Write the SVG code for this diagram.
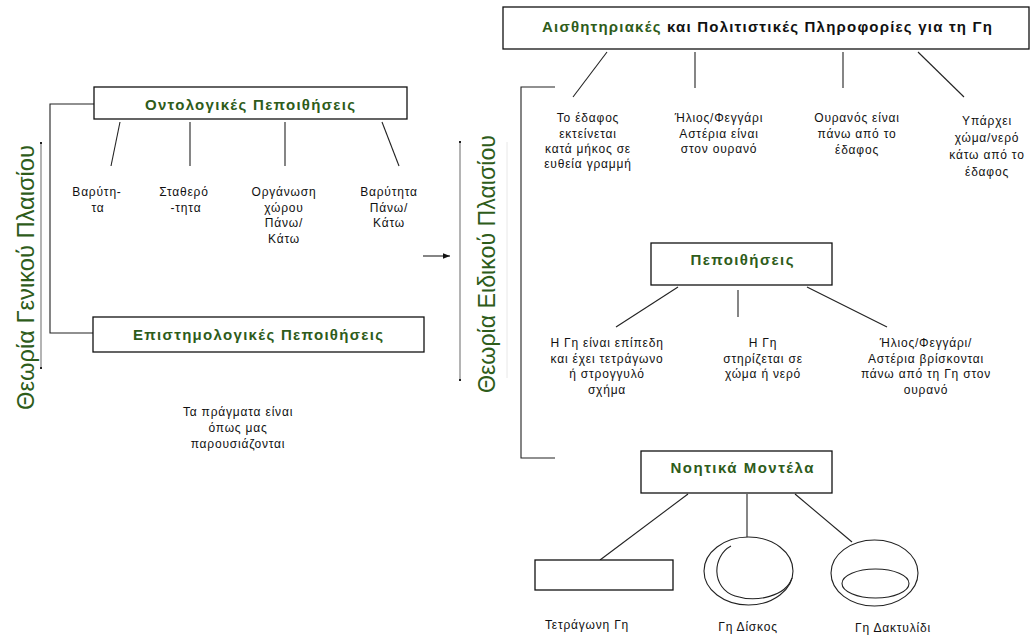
<svg xmlns="http://www.w3.org/2000/svg" width="1034" height="639" viewBox="0 0 1034 639">
<style>
.box{fill:#fff;stroke:#111;stroke-width:1.3}
.ln{stroke:#222;stroke-width:1.1;fill:none}
.t{font-family:"Liberation Sans",Arial,sans-serif;font-size:12px;letter-spacing:0.8px;fill:#111;text-anchor:middle}
.h{font-family:"Liberation Sans",Arial,sans-serif;font-size:15px;font-weight:bold;fill:#2e5c1a;text-anchor:middle}
.v{font-family:"Liberation Sans",Arial,sans-serif;font-size:23px;fill:#2e5c1a;text-anchor:middle}
.g{stroke:#b4b4b4;stroke-width:2}
</style>
<defs>
<marker id="ah" viewBox="0 0 10 10" refX="10" refY="5" markerWidth="7" markerHeight="7" markerUnits="userSpaceOnUse" orient="auto">
<path d="M0,1 L10,5 L0,9 z" fill="#111"/>
</marker>
</defs>
<rect width="1034" height="639" fill="#fff"/>

<g id="connectors">
<polyline class="ln" points="94,104 50,104 50,333 94,333"/>
<line class="ln" x1="120" y1="122" x2="111" y2="166"/>
<line class="ln" x1="190" y1="122" x2="190" y2="166"/>
<line class="ln" x1="285" y1="122" x2="285" y2="166"/>
<line class="ln" x1="382" y1="122" x2="399" y2="166"/>
<line class="ln" x1="423" y1="256" x2="450" y2="256" marker-end="url(#ah)"/>
<polyline class="ln" points="555,87 521,87 521,458 555,458"/>
<line class="ln" x1="607" y1="52" x2="573" y2="97"/>
<line class="ln" x1="695" y1="52" x2="695" y2="88"/>
<line class="ln" x1="843" y1="52" x2="843" y2="88"/>
<line class="ln" x1="918" y1="52" x2="964" y2="97"/>
<line class="ln" x1="678" y1="287" x2="616" y2="327"/>
<line class="ln" x1="738" y1="290" x2="738" y2="317"/>
<line class="ln" x1="807" y1="287" x2="887" y2="327"/>
<line class="ln" x1="688" y1="494" x2="600" y2="560"/>
<line class="ln" x1="747" y1="494" x2="747" y2="537"/>
<line class="ln" x1="795" y1="494" x2="852" y2="542"/>
</g>

<g id="frame-general">
<line class="g" x1="41" y1="143" x2="41" y2="368"/>
<rect x="40" y="142" width="2" height="2" fill="#222"/>
<rect x="40" y="367" width="2" height="2" fill="#222"/>
<text class="v" transform="translate(34,277.5) rotate(-90)" textLength="265" lengthAdjust="spacingAndGlyphs">Θεωρία Γενικού Πλαισίου</text>
</g>

<g id="frame-specific">
<line class="g" x1="460" y1="142" x2="460" y2="380"/>
<rect x="459" y="141" width="2" height="2" fill="#222"/>
<rect x="459" y="379" width="2" height="2" fill="#222"/>
<line x1="507" y1="142" x2="507" y2="378" stroke="#e8e8e8" stroke-width="1"/>
<text class="v" transform="translate(495,264) rotate(-90)" textLength="258" lengthAdjust="spacingAndGlyphs">Θεωρία Ειδικού Πλαισίου</text>
</g>

<g id="ontological">
<rect class="box" x="94" y="87" width="313" height="32"/>
<text class="h" x="250" y="110" textLength="210" lengthAdjust="spacing">Οντολογικές Πεποιθήσεις</text>
</g>
<g id="ont-1"><text class="t" x="97" y="196">Βαρύτη-</text><text class="t" x="98" y="212">τα</text></g>
<g id="ont-2"><text class="t" x="184" y="196">Σταθερό</text><text class="t" x="186" y="212">-τητα</text></g>
<g id="ont-3"><text class="t" x="284" y="196">Οργάνωση</text><text class="t" x="284" y="212">χώρου</text><text class="t" x="284" y="227">Πάνω/</text><text class="t" x="284" y="243">Κάτω</text></g>
<g id="ont-4"><text class="t" x="389" y="196">Βαρύτητα</text><text class="t" x="389" y="212">Πάνω/</text><text class="t" x="389" y="227">Κάτω</text></g>

<g id="epistemological">
<rect class="box" x="93" y="317" width="331" height="35"/>
<text class="h" x="258" y="340" textLength="250" lengthAdjust="spacing">Επιστημολογικές Πεποιθήσεις</text>
</g>
<g id="note"><text class="t" x="238" y="416">Τα πράγματα είναι</text><text class="t" x="238" y="432">όπως μας</text><text class="t" x="238" y="448">παρουσιάζονται</text></g>

<g id="sensory">
<rect class="box" x="503" y="7" width="526" height="42"/>
<text class="h" x="767" y="32" textLength="450" lengthAdjust="spacing" style="fill:#111">
<tspan style="fill:#2e5c1a">Αισθητηριακές</tspan> και Πολιτιστικές Πληροφορίες για τη Γη</text>
</g>
<g id="sen-1"><text class="t" x="588" y="122">Το έδαφος</text><text class="t" x="588" y="137.5">εκτείνεται</text><text class="t" x="588" y="153">κατά μήκος σε</text><text class="t" x="588" y="168">ευθεία γραμμή</text></g>
<g id="sen-2"><text class="t" x="719" y="122">Ήλιος/Φεγγάρι</text><text class="t" x="719" y="137.5">Αστέρια είναι</text><text class="t" x="719" y="153">στον ουρανό</text></g>
<g id="sen-3"><text class="t" x="857" y="122">Ουρανός είναι</text><text class="t" x="857" y="138">πάνω από το</text><text class="t" x="857" y="154">έδαφος</text></g>
<g id="sen-4"><text class="t" x="987" y="125">Υπάρχει</text><text class="t" x="987" y="142">χώμα/νερό</text><text class="t" x="987" y="159">κάτω από το</text><text class="t" x="987" y="176">έδαφος</text></g>

<g id="beliefs">
<rect class="box" x="651" y="243" width="181" height="42"/>
<text class="h" x="742" y="265" textLength="103" lengthAdjust="spacing">Πεποιθήσεις</text>
</g>
<g id="bel-1"><text class="t" x="607" y="347">Η Γη είναι επίπεδη</text><text class="t" x="607" y="362.5">και έχει τετράγωνο</text><text class="t" x="607" y="378">ή στρογγυλό</text><text class="t" x="607" y="394">σχήμα</text></g>
<g id="bel-2"><text class="t" x="763" y="347">Η Γη</text><text class="t" x="763" y="362.5">στηρίζεται σε</text><text class="t" x="763" y="378">χώμα ή νερό</text></g>
<g id="bel-3"><text class="t" x="926" y="347">Ήλιος/Φεγγάρι/</text><text class="t" x="926" y="362.5">Αστέρια βρίσκονται</text><text class="t" x="926" y="378">πάνω από τη Γη στον</text><text class="t" x="926" y="394">ουρανό</text></g>

<g id="models">
<rect class="box" x="641" y="451" width="191" height="42"/>
<text class="h" x="742" y="473" textLength="143" lengthAdjust="spacing">Νοητικά Μοντέλα</text>
</g>
<g id="square-earth">
<rect class="box" x="535" y="560" width="138" height="30"/>
<text class="t" x="587" y="629">Τετράγωνη Γη</text>
</g>
<g id="disk-earth">
<ellipse class="ln" cx="748.5" cy="571" rx="44.5" ry="34"/>
<path class="ln" d="M731,546 C712,556 711,588 735,596 C757,603 786,596 792,578"/>
<text class="t" x="748" y="631">Γη Δίσκος</text>
</g>
<g id="ring-earth">
<ellipse class="ln" cx="874.5" cy="573" rx="43.5" ry="33"/>
<ellipse class="ln" cx="875.5" cy="583.5" rx="33.5" ry="14.5"/>
<text class="t" x="893" y="632">Γη Δακτυλίδι</text>
</g>
</svg>
